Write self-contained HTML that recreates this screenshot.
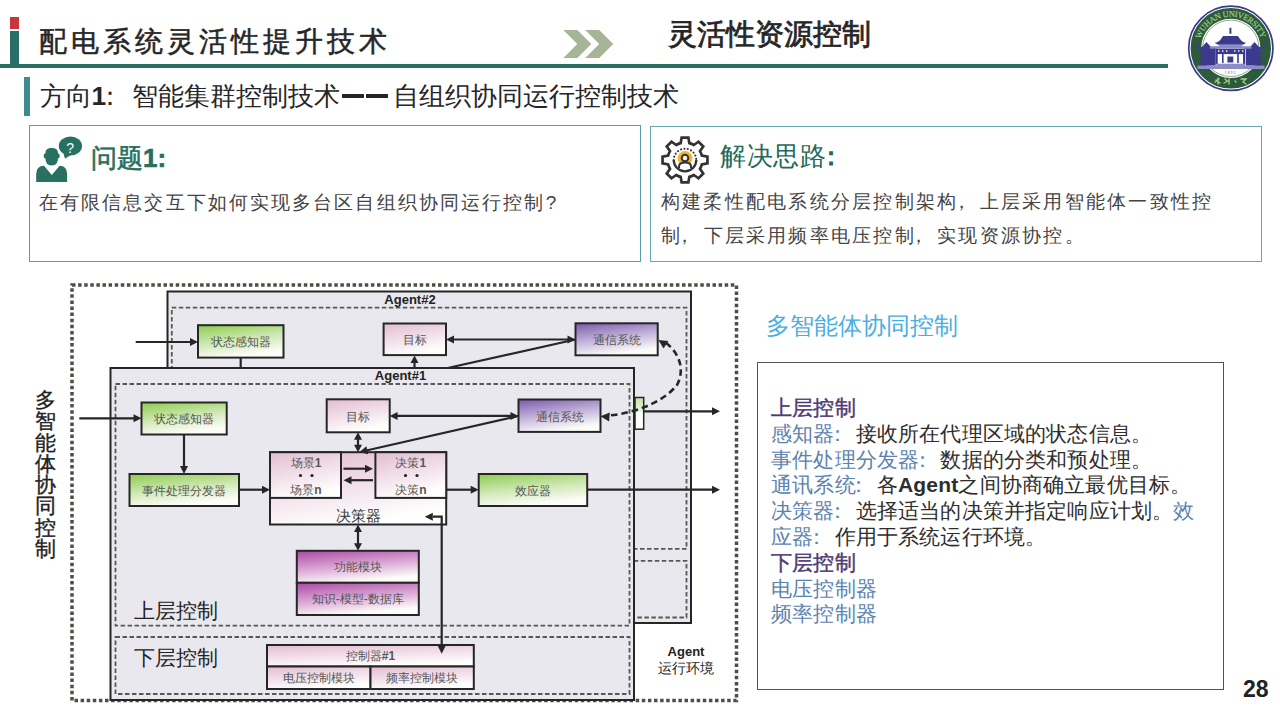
<!DOCTYPE html>
<html><head><meta charset="utf-8">
<style>
*{margin:0;padding:0;box-sizing:border-box}
html,body{width:1280px;height:720px;overflow:hidden;background:#fff}
body{position:relative;font-family:"Liberation Sans",sans-serif;color:#222}
.a{position:absolute;white-space:nowrap}
.p{display:inline-block;width:1em;text-align:left;padding-left:0.1em}
.q{position:relative;left:-0.36em}
</style></head><body>
<!-- header -->
<div class="a" style="left:9.5px;top:17px;width:9.5px;height:12px;background:#c8353a"></div>
<div class="a" style="left:9.5px;top:31px;width:9.5px;height:34px;background:#2a6e66"></div>
<div class="a" style="left:0;top:64px;width:1168px;height:4.3px;background:#27705f"></div>
<div class="a" id="t1" style="left:39px;top:23.5px;font-size:28px;line-height:36px;letter-spacing:4px;-webkit-text-stroke:0.5px #262626;color:#262626">配电系统灵活性提升技术</div>
<svg class="a" style="left:560px;top:28px" width="56" height="32" viewBox="0 0 56 32">
<polygon points="3.3,2 17.3,2 31.3,16 17.3,30 3.3,30 17.3,16" fill="#a6b596"/>
<polygon points="25.2,2 39.2,2 53.2,16 39.2,30 25.2,30 39.2,16" fill="#a6b596"/>
</svg>
<div class="a" id="t2" style="left:668px;top:15.5px;font-size:29px;line-height:36px;-webkit-text-stroke:0.8px #262626;color:#262626">灵活性资源控制</div>
<!-- logo -->
<svg class="a" style="left:1185px;top:3px" width="92" height="92" viewBox="0 0 92 92">
<circle cx="45.8" cy="45.3" r="42.1" fill="#fff" stroke="#3a3a8c" stroke-width="1.7"/>
<circle cx="45.8" cy="45.3" r="34.9" fill="none" stroke="#2d5a3b" stroke-width="10.6"/>
<circle cx="45.8" cy="45.3" r="28.2" fill="none" stroke="#3d6a4a" stroke-width="0.6"/>
<path d="M15.58 36.06 A31.6 31.6 0 0 1 76.02 36.06" fill="none" id="arc"/>
<text font-family="Liberation Serif" font-size="8.4" fill="#a6cf8c" stroke="#a6cf8c" stroke-width="0.15"><textPath href="#arc" textLength="79.7" lengthAdjust="spacing">WUHAN UNIVERSITY</textPath></text>
<g fill="#3b3a8e">
<rect x="44.4" y="24.8" width="2" height="6"/>
<path d="M29.4 39.8 Q33 40 36 36 L38 33 L53 33 L55 36 Q58 40 61.3 39.8 L58 41.8 L33 41.8Z"/>
<path d="M9.5 40.5 Q12 44.5 17 44 L21.5 39 L26 44 L32 44.5 L32 46 L13 46 Q10.5 44 9.5 40.5Z"/>
<path d="M81.5 40.5 Q79 44.5 74 44 L69.5 39 L65 44 L59 44.5 L59 46 L78 46 Q80.5 44 81.5 40.5Z"/>
<rect x="15.7" y="45" width="15" height="17.6"/>
<rect x="60.7" y="45" width="15" height="17.6"/>
<rect x="30.7" y="45.7" width="29.3" height="5.4"/>
<rect x="42.4" y="53.5" width="5.9" height="6"/>
<rect x="30.7" y="51" width="2" height="10"/>
<rect x="37" y="51" width="1.6" height="9"/>
<rect x="52.2" y="51" width="1.6" height="9"/>
<rect x="58" y="51" width="2" height="10"/>
</g>
<g fill="#8c8cc6">
<rect x="34" y="41.8" width="23" height="2.5"/>
<rect x="24.8" y="43.2" width="41.7" height="2.5"/>
<rect x="31.3" y="60.7" width="28.7" height="2.5"/>
<rect x="12.4" y="62.6" width="67.2" height="3.4"/>
</g>
<g fill="#c8c8e6"><rect x="33" y="47" width="1.4" height="2"/><rect x="37" y="47" width="1.4" height="2"/><rect x="41" y="47" width="1.4" height="2"/><rect x="49" y="47" width="1.4" height="2"/><rect x="53" y="47" width="1.4" height="2"/><rect x="57" y="47" width="1.4" height="2"/></g>
<text x="45.8" y="71.2" font-family="Liberation Serif" font-size="3.4" fill="#444" text-anchor="middle" letter-spacing="1.3">1893</text>
<g fill="none" stroke="#a6cf8c" stroke-width="1.3" stroke-linecap="round">
<path d="M30 79 L34 76 M31 77 L35 80 M33 75 L33 81"/>
<path d="M40 76 L42 78 M39 80 L43 78 M44 76 L44 81"/>
<path d="M50 78 L51 79"/>
<path d="M56 76 L61 76 L58 79 L61 81"/>
</g>
</svg>
<!-- subtitle -->
<div class="a" style="left:23.5px;top:77px;width:6.5px;height:39px;background:#3f8c8f"></div>
<div class="a" id="t3" style="left:39.5px;top:79px;font-size:26.4px;line-height:34px;color:#262626">方向<b>1</b><span class="q">：</span>智能集群控制技术<span style="display:inline-block;position:relative;width:53px;height:20px;vertical-align:-2px"><i style="position:absolute;left:2px;top:7px;width:22px;height:3.6px;background:#262626"></i><i style="position:absolute;left:26px;top:7px;width:22px;height:3.6px;background:#262626"></i></span>自组织协同运行控制技术</div>
<!-- box 1 -->
<div class="a" style="left:29px;top:125px;width:612px;height:137px;border:1.5px solid #5a9da2"></div>
<svg class="a" style="left:34px;top:134px" width="52" height="50" viewBox="0 0 52 50">
<g fill="#28705f">
<path d="M11.4 19 Q11.4 13.9 17.7 13.9 Q24 13.9 24 19 L24 24 Q24 31.4 17.7 31.4 Q11.4 31.4 11.4 24Z"/>
<ellipse cx="11.2" cy="22" rx="1.5" ry="2.4"/>
<ellipse cx="24.2" cy="22" rx="1.5" ry="2.4"/>
<path d="M2.2 48 L2.2 40 Q2.2 32 10 31.8 L17.8 41 L25.6 31.8 Q33.1 32 33.1 40 L33.1 48 Z"/>
<ellipse cx="36.4" cy="12" rx="11.6" ry="9.6"/>
<path d="M28.5 16 L31 24.8 L37.5 20.5 Z"/>
</g>
<text x="36.2" y="18.6" font-size="14" fill="#fff" text-anchor="middle">?</text>
</svg>
<div class="a" id="q1" style="left:91px;top:141px;font-size:26px;line-height:34px;color:#27705f;-webkit-text-stroke:0.6px #27705f">问题<b>1:</b></div>
<div class="a" id="q1b" style="left:39px;top:189px;font-size:19px;line-height:28px;letter-spacing:2.1px;color:#444">在有限信息交互下如何实现多台区自组织协同运行控制<span class="p" style="padding-left:0.02em">?</span></div>
<!-- box 2 -->
<div class="a" style="left:650px;top:126px;width:612px;height:136px;border:1.6px solid #6aa8ad"></div>
<svg class="a" style="left:659px;top:134px" width="52" height="52" viewBox="0 0 52 52">
<g transform="translate(26,26)">
<path fill="#fff" stroke="#333" stroke-width="2.7" stroke-linejoin="miter" d="M-4.36 -16.85 L-3.36 -22.45 L3.36 -22.45 L4.36 -16.85 A17.4 17.4 0 0 1 8.83 -14.99 L13.50 -18.25 L18.25 -13.50 L14.99 -8.83 A17.4 17.4 0 0 1 16.85 -4.36 L22.45 -3.36 L22.45 3.36 L16.85 4.36 A17.4 17.4 0 0 1 14.99 8.83 L18.25 13.50 L13.50 18.25 L8.83 14.99 A17.4 17.4 0 0 1 4.36 16.85 L3.36 22.45 L-3.36 22.45 L-4.36 16.85 A17.4 17.4 0 0 1 -8.83 14.99 L-13.50 18.25 L-18.25 13.50 L-14.99 8.83 A17.4 17.4 0 0 1 -16.85 4.36 L-22.45 3.36 L-22.45 -3.36 L-16.85 -4.36 A17.4 17.4 0 0 1 -14.99 -8.83 L-18.25 -13.50 L-13.50 -18.25 L-8.83 -14.99 A17.4 17.4 0 0 1 -4.36 -16.85 Z"/>
<path d="M-11.3 0 A11.3 11.3 0 0 0 11.3 0" fill="none" stroke="#333" stroke-width="2.3"/>
<path d="M-11.3 0 A11.3 11.3 0 0 1 11.3 0" fill="none" stroke="#333" stroke-width="2.1" stroke-linecap="round" stroke-dasharray="0.01 3.4"/>
<circle cx="0" cy="-1.5" r="7.4" fill="#f4b52a"/>
<circle cx="0" cy="-2" r="3.3" fill="#f6f0dc" stroke="#333" stroke-width="2"/>
<path d="M-6 8.5 L-6 6.5 Q-6 2.5 0 2.5 Q6 2.5 6 6.5 L6 8.5" fill="#fff" stroke="#333" stroke-width="2"/>
</g>
</svg>
<div class="a" id="s1" style="left:720px;top:138.5px;font-size:26.4px;line-height:34px;letter-spacing:0.5px;color:#1f6a58">解决思路<span class="q" style="font-weight:bold;left:-0.3em">：</span></div>
<div class="a" id="s1b" style="left:661px;top:184.5px;font-size:19px;line-height:34px;letter-spacing:2.24px;color:#444">构建柔性配电系统分层控制架构<span class="q">，</span>上层采用智能体一致性控<br>制<span class="q">，</span>下层采用频率电压控制<span class="q">，</span>实现资源协控。</div>
<!-- right text -->
<div class="a" id="r0" style="left:765.5px;top:310px;font-size:23.5px;line-height:32px;color:#4aaee2">多智能体协同控制</div>
<div class="a" style="left:757px;top:361.5px;width:466.5px;height:328.5px;border:1.6px solid #50544a"></div>
<div class="a" id="r1" style="left:771px;top:395px;font-size:21px;letter-spacing:0.17px;line-height:25.8px;color:#2e2e2e">
<span style="color:#4e3b73;-webkit-text-stroke:0.45px #4e3b73">上层控制</span><br>
<span style="color:#5b82b0">感知器<span class="q">：</span></span>接收所在代理区域的状态信息。<br>
<span style="color:#5b82b0">事件处理分发器<span class="q">：</span></span>数据的分类和预处理。<br>
<span style="color:#5b82b0">通讯系统<span class="q">：</span></span>各<b>Agent</b>之间协商确立最优目标。<br>
<span style="color:#5b82b0">决策器<span class="q">：</span></span>选择适当的决策并指定响应计划。<span style="color:#5b82b0">效</span><br>
<span style="color:#5b82b0">应器<span class="q">：</span></span>作用于系统运行环境。<br>
<span style="color:#4e3b73;-webkit-text-stroke:0.45px #4e3b73">下层控制</span><br>
<span style="color:#5b82b0">电压控制器</span><br>
<span style="color:#5b82b0">频率控制器</span>
</div>
<div class="a" style="left:1243px;top:676px;font-size:23px;line-height:26px;font-weight:bold;color:#222">28</div>
<!-- vertical text -->
<div class="a" id="v1" style="left:35px;top:389px;width:22px;font-size:21px;line-height:21.3px;white-space:normal;color:#222;-webkit-text-stroke:0.35px #222">多智能体协同控制</div>
<!-- DIAGRAM -->
<svg class="a" style="left:0;top:0" width="1280" height="720" viewBox="0 0 1280 720" id="dg">
<defs>
<linearGradient id="gG" x1="0" y1="0" x2="0.35" y2="1"><stop offset="0" stop-color="#8ccc4c"/><stop offset="0.55" stop-color="#cfe8b5"/><stop offset="1" stop-color="#fdfdf8"/></linearGradient>
<linearGradient id="gP" x1="0" y1="0" x2="0.35" y2="1"><stop offset="0" stop-color="#e3bcd0"/><stop offset="0.6" stop-color="#f3e3ec"/><stop offset="1" stop-color="#fefefc"/></linearGradient>
<linearGradient id="gV" x1="0" y1="0" x2="0.35" y2="1"><stop offset="0" stop-color="#7a5aaa"/><stop offset="0.55" stop-color="#c4b4da"/><stop offset="1" stop-color="#fbfbf8"/></linearGradient>
<linearGradient id="gM" x1="0" y1="0" x2="0.35" y2="1"><stop offset="0" stop-color="#ac48a4"/><stop offset="0.55" stop-color="#d9a6d4"/><stop offset="1" stop-color="#fcfcf8"/></linearGradient>
<linearGradient id="gS" x1="0" y1="0" x2="0" y2="1"><stop offset="0" stop-color="#c7e3a6"/><stop offset="0.4" stop-color="#e5f1d6"/><stop offset="0.5" stop-color="#fbfdf8"/><stop offset="1" stop-color="#fff"/></linearGradient>
</defs>
<rect x="72" y="285" width="664.5" height="415.5" fill="none" stroke="#4c5044" stroke-width="3.5" stroke-dasharray="3.5 2.6"/>
<rect x="167.5" y="291.5" width="523.5" height="331.5" fill="#eae8ef" stroke="#262626" stroke-width="2"/>
<rect x="171.8" y="307.6" width="514.7" height="241.3" fill="none" stroke="#565a50" stroke-width="1.8" stroke-dasharray="4.5 2.5"/>
<rect x="171.8" y="560.8" width="514.7" height="56.7" fill="none" stroke="#565a50" stroke-width="1.8" stroke-dasharray="4.5 2.5"/>
<text x="410" y="304" font-size="13" fill="#222" text-anchor="middle" font-weight="bold">Agent#2</text>
<rect x="198" y="325.2" width="85.5" height="32.4" fill="url(#gG)" stroke="#262626" stroke-width="2"/>
<text x="240.7" y="346" font-size="12" fill="#575757" text-anchor="middle" font-weight="normal">状态感知器</text>
<line x1="135.70" y1="342.00" x2="191.00" y2="342.00" stroke="#262626" stroke-width="2.2"/>
<polygon points="198.00,342.00 190.00,346.00 190.00,338.00" fill="#262626"/>
<line x1="240.70" y1="357.60" x2="240.70" y2="368.00" stroke="#262626" stroke-width="2.2"/>
<rect x="383.6" y="323.5" width="62.4" height="31.6" fill="url(#gP)" stroke="#262626" stroke-width="2"/>
<text x="414.8" y="344" font-size="12" fill="#575757" text-anchor="middle" font-weight="normal">目标</text>
<rect x="575.5" y="323.3" width="82.2" height="32" fill="url(#gV)" stroke="#262626" stroke-width="2"/>
<text x="616.6" y="344" font-size="12" fill="#575757" text-anchor="middle" font-weight="normal">通信系统</text>
<line x1="453.00" y1="339.50" x2="568.50" y2="339.50" stroke="#262626" stroke-width="2.2"/>
<polygon points="575.50,339.50 567.50,343.50 567.50,335.50" fill="#262626"/>
<polygon points="446.00,339.50 454.00,335.50 454.00,343.50" fill="#262626"/>
<line x1="448.70" y1="367.80" x2="575.50" y2="339.50" stroke="#262626" stroke-width="2.2"/>
<line x1="414.50" y1="367.80" x2="414.50" y2="362.10" stroke="#262626" stroke-width="2.2"/>
<polygon points="414.50,355.60 418.50,363.10 410.50,363.10" fill="#262626"/>
<rect x="635" y="397.5" width="8.7" height="31.7" fill="url(#gS)" stroke="#262626" stroke-width="1.5"/>
<line x1="643.70" y1="411.30" x2="713.00" y2="411.30" stroke="#262626" stroke-width="2.2"/>
<polygon points="720.00,411.30 712.00,415.30 712.00,407.30" fill="#262626"/>
<rect x="110.5" y="368" width="523.5" height="332" fill="#eae8ef" stroke="#262626" stroke-width="2"/>
<rect x="115.5" y="384" width="514" height="241.6" fill="none" stroke="#565a50" stroke-width="1.8" stroke-dasharray="4.5 2.5"/>
<rect x="115.5" y="637" width="514" height="57" fill="none" stroke="#565a50" stroke-width="1.8" stroke-dasharray="4.5 2.5"/>
<text x="400.5" y="380" font-size="13" fill="#222" text-anchor="middle" font-weight="bold">Agent#1</text>
<rect x="141.5" y="402.5" width="85.2" height="32" fill="url(#gG)" stroke="#262626" stroke-width="2"/>
<text x="184" y="423" font-size="12" fill="#575757" text-anchor="middle" font-weight="normal">状态感知器</text>
<line x1="79.30" y1="418.30" x2="134.50" y2="418.30" stroke="#262626" stroke-width="2.2"/>
<polygon points="141.50,418.30 133.50,422.30 133.50,414.30" fill="#262626"/>
<line x1="184.00" y1="434.50" x2="184.00" y2="467.00" stroke="#262626" stroke-width="2.2"/>
<polygon points="184.00,474.00 180.00,466.00 188.00,466.00" fill="#262626"/>
<rect x="129.5" y="474" width="109.5" height="32" fill="url(#gG)" stroke="#262626" stroke-width="2"/>
<text x="184.2" y="494.5" font-size="12" fill="#575757" text-anchor="middle" font-weight="normal">事件处理分发器</text>
<line x1="239.00" y1="489.70" x2="263.00" y2="489.70" stroke="#262626" stroke-width="2.2"/>
<polygon points="270.00,489.70 262.00,493.70 262.00,485.70" fill="#262626"/>
<rect x="270" y="452.2" width="176.2" height="72.3" fill="url(#gP)" stroke="#262626" stroke-width="2"/>
<rect x="270" y="452.2" width="71" height="45.7" fill="url(#gP)" stroke="#262626" stroke-width="2"/>
<rect x="375.4" y="452.2" width="70.8" height="45.7" fill="url(#gP)" stroke="#262626" stroke-width="2"/>
<text x="306" y="467" font-size="12" fill="#575757" text-anchor="middle" font-weight="normal">场景<tspan font-weight='bold'>1</tspan></text>
<circle cx="300.5" cy="475.5" r="1.6" fill="#222"/><circle cx="312" cy="475.5" r="1.6" fill="#222"/>
<text x="306" y="494" font-size="12" fill="#575757" text-anchor="middle" font-weight="normal">场景<tspan font-weight='bold'>n</tspan></text>
<text x="410.8" y="467" font-size="12" fill="#575757" text-anchor="middle" font-weight="normal">决策<tspan font-weight='bold'>1</tspan></text>
<circle cx="405.5" cy="475.5" r="1.6" fill="#222"/><circle cx="417" cy="475.5" r="1.6" fill="#222"/>
<text x="410.8" y="494" font-size="12" fill="#575757" text-anchor="middle" font-weight="normal">决策<tspan font-weight='bold'>n</tspan></text>
<text x="358" y="521" font-size="15" fill="#3a3a3a" text-anchor="middle" font-weight="normal">决策器</text>
<line x1="343.50" y1="468.70" x2="366.00" y2="468.70" stroke="#262626" stroke-width="2.2"/>
<polygon points="373.00,468.70 365.00,472.70 365.00,464.70" fill="#262626"/>
<line x1="373.00" y1="480.20" x2="350.50" y2="480.20" stroke="#262626" stroke-width="2.2"/>
<polygon points="343.50,480.20 351.50,476.20 351.50,484.20" fill="#262626"/>
<rect x="326.7" y="399.3" width="63" height="33" fill="url(#gP)" stroke="#262626" stroke-width="2"/>
<text x="358.2" y="420.5" font-size="12" fill="#575757" text-anchor="middle" font-weight="normal">目标</text>
<rect x="518.5" y="399.5" width="82" height="32.4" fill="url(#gV)" stroke="#262626" stroke-width="2"/>
<text x="559.5" y="420.5" font-size="12" fill="#575757" text-anchor="middle" font-weight="normal">通信系统</text>
<line x1="396.60" y1="415.90" x2="511.50" y2="415.90" stroke="#262626" stroke-width="2.2"/>
<polygon points="518.50,415.90 510.50,419.90 510.50,411.90" fill="#262626"/>
<polygon points="389.60,415.90 397.60,411.90 397.60,419.90" fill="#262626"/>
<line x1="518.50" y1="415.90" x2="366.33" y2="450.45" stroke="#262626" stroke-width="2.2"/>
<polygon points="359.50,452.00 366.42,446.33 368.19,454.13" fill="#262626"/>
<line x1="358.00" y1="438.70" x2="358.00" y2="445.70" stroke="#262626" stroke-width="2.2"/>
<polygon points="358.00,452.20 354.00,444.70 362.00,444.70" fill="#262626"/>
<polygon points="358.00,432.20 362.00,439.70 354.00,439.70" fill="#262626"/>
<rect x="478.7" y="474" width="108.5" height="32" fill="url(#gG)" stroke="#262626" stroke-width="2"/>
<text x="533" y="494.5" font-size="12" fill="#575757" text-anchor="middle" font-weight="normal">效应器</text>
<line x1="446.20" y1="489.70" x2="471.70" y2="489.70" stroke="#262626" stroke-width="2.2"/>
<polygon points="478.70,489.70 470.70,493.70 470.70,485.70" fill="#262626"/>
<line x1="587.20" y1="489.70" x2="713.00" y2="489.70" stroke="#262626" stroke-width="2.2"/>
<polygon points="720.00,489.70 712.00,493.70 712.00,485.70" fill="#262626"/>
<line x1="358.00" y1="531.00" x2="358.00" y2="544.30" stroke="#262626" stroke-width="2.2"/>
<polygon points="358.00,550.80 354.00,543.30 362.00,543.30" fill="#262626"/>
<polygon points="358.00,524.50 362.00,532.00 354.00,532.00" fill="#262626"/>
<rect x="296.8" y="550.8" width="122" height="32" fill="url(#gM)" stroke="#262626" stroke-width="2"/>
<text x="357.8" y="571" font-size="12" fill="#575757" text-anchor="middle" font-weight="normal">功能模块</text>
<rect x="296.8" y="582.8" width="122" height="32.2" fill="url(#gM)" stroke="#262626" stroke-width="2"/>
<text x="357.8" y="603" font-size="12" fill="#575757" text-anchor="middle" font-weight="normal">知识-模型-数据库</text>
<rect x="267" y="645" width="206.8" height="21.5" fill="url(#gP)" stroke="#262626" stroke-width="2"/>
<text x="370.4" y="660" font-size="12" fill="#575757" text-anchor="middle" font-weight="normal">控制器<tspan font-weight='bold'>#1</tspan></text>
<rect x="267" y="666.5" width="103.5" height="22.5" fill="url(#gP)" stroke="#262626" stroke-width="2"/>
<text x="318.7" y="682" font-size="12" fill="#575757" text-anchor="middle" font-weight="normal">电压控制模块</text>
<rect x="370.5" y="666.5" width="103.3" height="22.5" fill="url(#gP)" stroke="#262626" stroke-width="2"/>
<text x="422.2" y="682" font-size="12" fill="#575757" text-anchor="middle" font-weight="normal">频率控制模块</text>
<polyline points="433,516.7 441.7,516.7 441.7,646" fill="none" stroke="#262626" stroke-width="2.2"/>
<polygon points="424.80,516.70 432.80,512.70 432.80,520.70" fill="#262626"/>
<polygon points="441.70,653.80 437.70,645.80 445.70,645.80" fill="#262626"/>
<text x="134" y="618" font-size="21" fill="#222" text-anchor="start" font-weight="normal">上层控制</text>
<text x="134" y="665" font-size="21" fill="#222" text-anchor="start" font-weight="normal">下层控制</text>
<text x="686" y="656" font-size="13" fill="#222" text-anchor="middle" font-weight="bold">Agent</text>
<text x="686" y="673" font-size="14" fill="#222" text-anchor="middle" font-weight="normal">运行环境</text>
<path d="M611 415.3 C640 412 665 400 677 385 C684 372 682 355 665 342" fill="none" stroke="#262626" stroke-width="2.6" stroke-dasharray="6.5 4"/>
<polygon points="600.50,416.30 609.83,412.53 609.11,421.50" fill="#262626"/>
<polygon points="658.30,340.00 668.32,340.91 663.59,348.56" fill="#262626"/>
</svg>
</body></html>
